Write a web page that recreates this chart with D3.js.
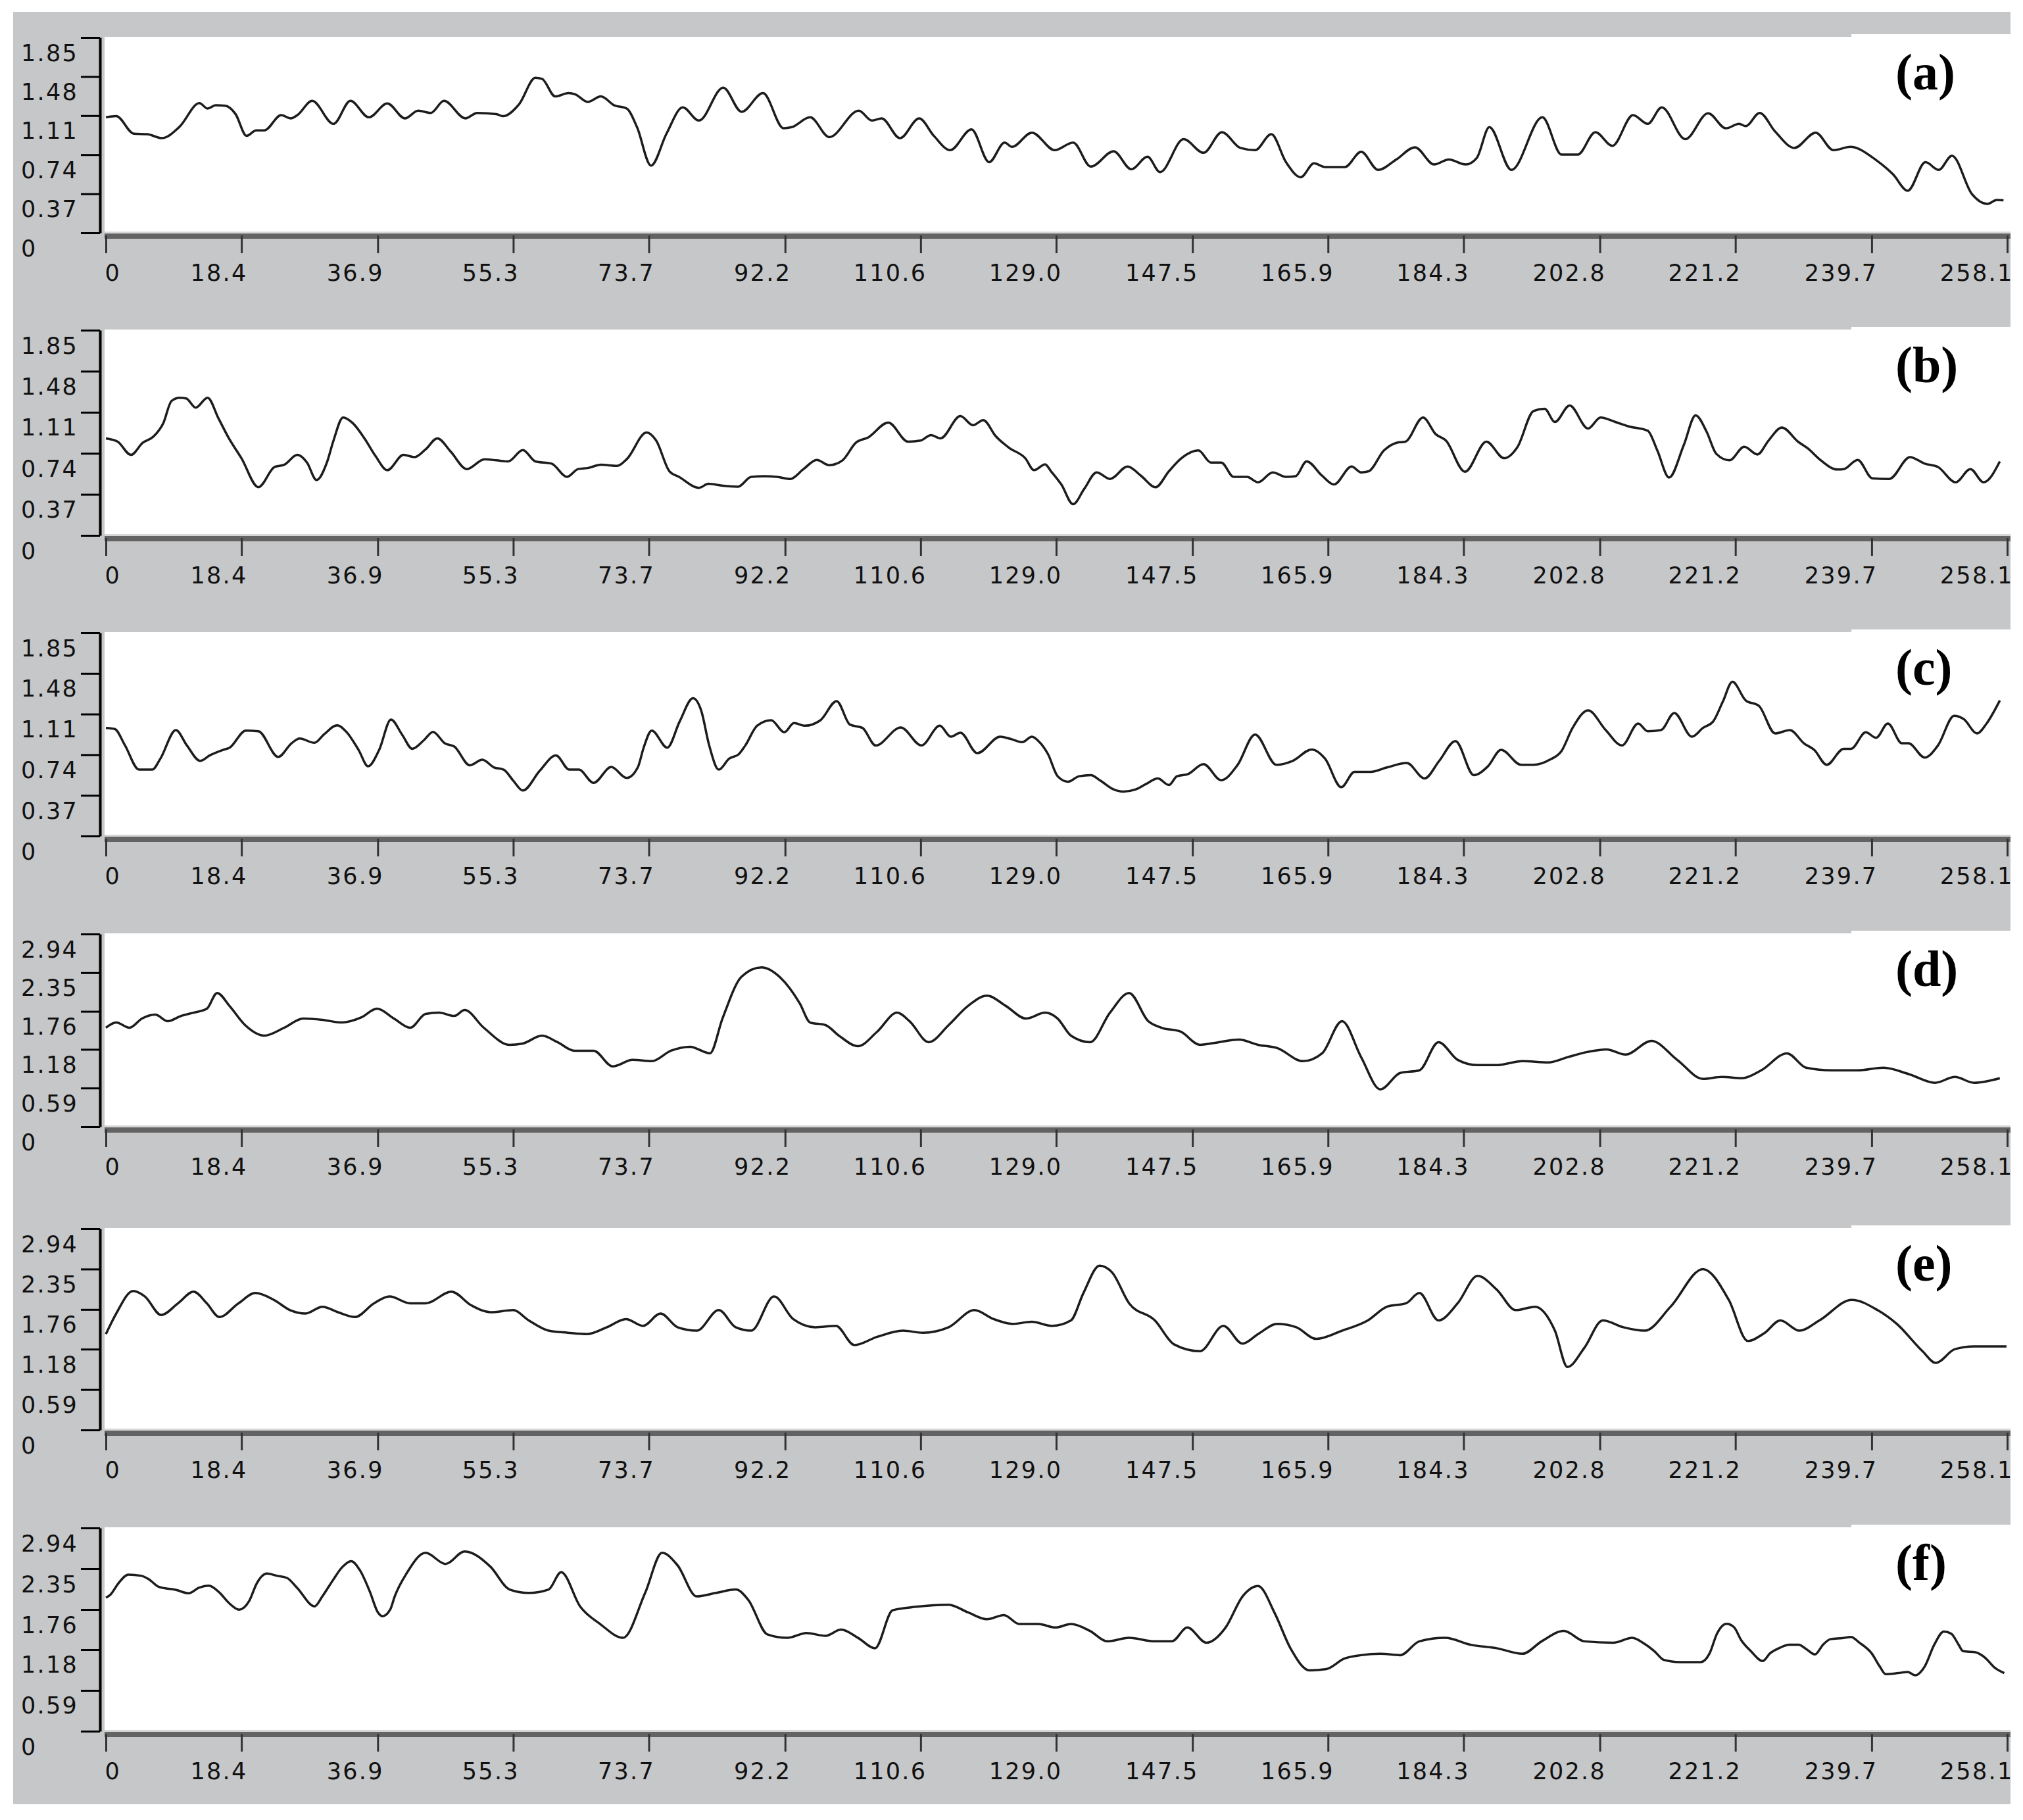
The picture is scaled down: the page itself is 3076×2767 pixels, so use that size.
<!DOCTYPE html>
<html><head><meta charset="utf-8">
<script src="https://cdn.jsdelivr.net/npm/d3@7"></script>
<style>html,body{margin:0;padding:0;background:#fff;} svg{display:block}</style>
</head><body><svg id="chart" width="3076" height="2767"></svg>
<script>
// ---------------- DATA ----------------
const xTickLabels = ["0","18.4","36.9","55.3","73.7","92.2","110.6","129.0","147.5","165.9","184.3","202.8","221.2","239.7","258.1"];
const xMax = 258.1;
const yTickLabelsLow  = ["0","0.37","0.74","1.11","1.48","1.85"];
const yTickLabelsHigh = ["0","0.59","1.18","1.76","2.35","2.94"];
const panelNames = ["(a)","(b)","(c)","(d)","(e)","(f)"];

const seriesA = [[0,1.094],[1.4,1.105],[3.8,0.939],[5.6,0.934],[7.6,0.897],[10.0,1.005],[12.7,1.229],[13.8,1.177],[14.9,1.208],[16.2,1.204],[17.6,1.125],[19.1,0.918],[20.4,0.970],[21.5,0.970],[23.8,1.115],[25.1,1.084],[26.0,1.115],[28.0,1.250],[30.9,1.032],[33.2,1.250],[35.7,1.094],[38.2,1.225],[40.6,1.084],[42.4,1.157],[44.1,1.136],[45.9,1.250],[48.8,1.084],[50.4,1.136],[53.0,1.125],[53.9,1.105],[56.1,1.219],[58.3,1.468],[59.2,1.458],[61.0,1.292],[62.8,1.323],[63.7,1.312],[65.4,1.240],[67.2,1.292],[69.0,1.208],[70.7,1.177],[72.1,1.001],[74.0,0.637],[76.1,0.939],[78.3,1.188],[80.5,1.063],[83.8,1.375],[86.3,1.146],[89.2,1.323],[92.0,0.990],[93.1,1.001],[95.6,1.094],[98.2,0.907],[102.2,1.157],[104.0,1.063],[105.3,1.084],[107.8,0.897],[110.4,1.084],[112.4,0.918],[114.6,0.783],[117.5,0.980],[119.9,0.669],[122.0,0.855],[123.0,0.814],[125.7,0.949],[128.8,0.783],[131.3,0.855],[133.7,0.627],[136.8,0.772],[139.2,0.602],[141.4,0.721],[143.1,0.575],[146.3,0.887],[149.0,0.758],[151.5,0.953],[154.0,0.804],[156.0,0.783],[158.2,0.934],[160.2,0.669],[162.2,0.527],[164.0,0.658],[165.5,0.623],[168.2,0.623],[170.4,0.768],[172.7,0.596],[175.2,0.696],[177.7,0.810],[180.3,0.648],[182.3,0.694],[184.6,0.648],[186.1,0.710],[187.8,1.001],[190.8,0.596],[195.0,1.094],[197.6,0.741],[199.8,0.741],[202.2,0.953],[204.5,0.824],[207.3,1.115],[209.3,1.032],[211.2,1.188],[214.4,0.887],[217.5,1.132],[219.9,0.990],[221.7,1.032],[222.6,1.011],[224.5,1.136],[226.6,0.959],[229.2,0.804],[232.1,0.949],[234.5,0.783],[236.8,0.814],[240.3,0.689],[242.6,0.554],[244.6,0.399],[247.0,0.669],[248.8,0.596],[250.6,0.731],[253.3,0.368],[255.4,0.274],[256.7,0.311],[257.6,0.309]];

const seriesB = [[0,0.875],[1.6,0.845],[3.4,0.726],[5.0,0.835],[6.5,0.894],[7.8,1.013],[8.9,1.211],[10.0,1.241],[10.9,1.235],[12.2,1.152],[13.8,1.241],[15.3,1.053],[16.7,0.875],[18.4,0.696],[20.7,0.435],[22.9,0.617],[24.2,0.637],[26.0,0.726],[27.3,0.657],[28.6,0.499],[30.0,0.657],[30.9,0.855],[32.2,1.063],[33.5,1.013],[35.1,0.875],[36.6,0.716],[38.2,0.588],[40.4,0.726],[41.9,0.706],[43.4,0.776],[45.0,0.875],[46.8,0.756],[49.0,0.598],[51.4,0.687],[53.0,0.677],[54.6,0.667],[56.6,0.770],[58.3,0.667],[60.5,0.647],[62.6,0.528],[64.1,0.598],[65.4,0.607],[67.2,0.637],[69.4,0.627],[70.7,0.687],[73.4,0.928],[74.7,0.855],[76.5,0.578],[77.8,0.528],[80.5,0.429],[81.8,0.465],[83.6,0.449],[85.8,0.439],[87.6,0.528],[89.4,0.534],[91.1,0.528],[92.9,0.509],[94.7,0.598],[96.5,0.681],[98.2,0.633],[100.0,0.677],[101.8,0.835],[103.5,0.884],[106.2,1.017],[108.9,0.845],[110.6,0.855],[112.0,0.904],[113.3,0.875],[116.0,1.076],[117.7,0.993],[119.1,1.039],[120.8,0.894],[122.6,0.790],[124.8,0.696],[126.0,0.588],[127.5,0.641],[128.3,0.578],[129.7,0.459],[131.3,0.281],[132.8,0.419],[134.5,0.568],[136.3,0.509],[138.7,0.621],[140.5,0.538],[142.5,0.435],[144.3,0.578],[146.0,0.696],[148.3,0.766],[150.0,0.657],[151.4,0.657],[153.1,0.528],[154.9,0.528],[156.4,0.479],[158.4,0.568],[160.2,0.528],[161.5,0.534],[163.0,0.667],[165.1,0.538],[166.7,0.459],[169.1,0.621],[170.4,0.568],[171.4,0.578],[173.5,0.766],[175.2,0.835],[176.4,0.845],[178.8,1.063],[180.5,0.914],[181.9,0.855],[184.5,0.574],[187.4,0.845],[189.8,0.696],[191.6,0.795],[193.8,1.122],[195.3,1.142],[196.7,1.023],[198.7,1.171],[201.2,0.964],[202.9,1.063],[204.9,1.023],[206.7,0.983],[209.3,0.944],[210.6,0.766],[212.2,0.522],[214.2,0.815],[215.8,1.082],[217.3,0.934],[218.6,0.736],[220.4,0.677],[222.4,0.799],[224.2,0.730],[225.7,0.855],[227.5,0.973],[229.7,0.845],[231.0,0.786],[232.8,0.677],[235.0,0.594],[235.9,0.598],[237.8,0.681],[239.8,0.514],[242.1,0.509],[244.9,0.706],[246.9,0.647],[248.7,0.617],[251.1,0.479],[253.1,0.598],[254.9,0.479],[257.1,0.667]];

const seriesC = [[0,0.984],[1.2,0.974],[2.6,0.824],[4.5,0.604],[6.3,0.604],[7.4,0.704],[9.5,0.964],[11.0,0.824],[12.8,0.684],[14.1,0.734],[15.9,0.784],[16.8,0.804],[19.0,0.960],[20.7,0.954],[23.4,0.720],[25.2,0.844],[26.3,0.888],[28.3,0.848],[29.6,0.924],[31.4,1.008],[32.7,0.944],[34.3,0.784],[35.6,0.634],[37.1,0.784],[38.7,1.060],[40.2,0.924],[41.6,0.794],[43.2,0.874],[44.4,0.948],[46.0,0.844],[47.3,0.814],[49.4,0.644],[51.1,0.694],[52.7,0.624],[54.0,0.604],[55.3,0.504],[56.6,0.414],[58.9,0.594],[61.1,0.734],[62.9,0.604],[64.2,0.604],[66.2,0.484],[68.6,0.628],[70.7,0.528],[72.2,0.624],[73.0,0.804],[74.1,0.960],[76.2,0.804],[77.9,1.044],[79.7,1.254],[80.8,1.144],[81.9,0.824],[83.2,0.604],[84.6,0.704],[85.9,0.744],[86.8,0.824],[88.4,1.004],[90.3,1.054],[92.1,0.944],[93.4,1.028],[94.9,1.004],[97.0,1.054],[99.2,1.228],[101.0,1.014],[102.7,0.984],[104.5,0.824],[107.9,0.988],[110.7,0.824],[113.2,1.004],[114.7,0.904],[116.0,0.940],[118.3,0.754],[121.4,0.904],[122.7,0.886],[124.4,0.854],[125.7,0.904],[126.6,0.864],[127.9,0.744],[129.2,0.544],[130.6,0.494],[132.1,0.544],[133.7,0.554],[135.0,0.504],[136.8,0.424],[138.1,0.404],[139.8,0.424],[141.2,0.474],[142.8,0.524],[144.3,0.464],[145.4,0.544],[146.9,0.564],[149.0,0.654],[151.4,0.508],[153.6,0.644],[156.0,0.924],[158.9,0.648],[161.1,0.684],[163.7,0.788],[165.5,0.704],[167.7,0.444],[169.5,0.584],[171.7,0.584],[173.9,0.624],[176.6,0.664],[179.0,0.524],[181.0,0.684],[183.2,0.864],[185.7,0.554],[187.6,0.634],[189.4,0.784],[192.1,0.648],[193.8,0.648],[196.0,0.694],[197.6,0.774],[199.1,0.984],[201.2,1.144],[203.6,0.964],[205.8,0.824],[208.0,1.024],[209.3,0.954],[211.1,0.964],[212.9,1.120],[215.3,0.904],[216.8,0.984],[218.2,1.044],[219.5,1.224],[220.8,1.404],[222.6,1.234],[224.4,1.184],[226.6,0.934],[228.6,0.964],[230.5,0.844],[231.9,0.784],[233.6,0.648],[235.9,0.794],[236.9,0.794],[238.9,0.944],[240.3,0.894],[241.9,1.024],[243.8,0.844],[244.7,0.844],[246.9,0.714],[248.7,0.824],[250.9,1.094],[252.2,1.064],[254.0,0.934],[255.3,1.024],[257.1,1.234]];

const seriesD = [[0,1.51],[1.4,1.59],[3.2,1.51],[4.9,1.65],[6.7,1.71],[8.4,1.61],[10.2,1.69],[11.9,1.74],[13.7,1.80],[15.1,2.04],[16.8,1.84],[18.9,1.55],[21.5,1.39],[24.2,1.51],[26.8,1.65],[29.4,1.63],[32.0,1.59],[34.7,1.67],[36.8,1.80],[39.1,1.65],[41.3,1.51],[43.4,1.72],[45.2,1.74],[47.3,1.69],[48.7,1.78],[51.3,1.51],[54.8,1.25],[56.6,1.27],[59.2,1.39],[61.3,1.29],[63.6,1.16],[66.2,1.16],[68.8,0.92],[71.5,1.02],[74.1,1.00],[76.7,1.16],[79.3,1.22],[82.0,1.12],[83.7,1.65],[86.3,2.29],[89.0,2.43],[91.6,2.27],[94.2,1.88],[95.6,1.59],[97.7,1.55],[99.5,1.39],[102.1,1.23],[104.7,1.45],[107.4,1.74],[109.1,1.61],[111.7,1.29],[114.4,1.55],[117.0,1.84],[119.6,2.00],[122.2,1.84],[124.9,1.65],[127.5,1.74],[129.2,1.65],[131.0,1.39],[133.6,1.29],[136.3,1.74],[138.9,2.04],[141.5,1.61],[143.3,1.51],[145.9,1.45],[148.5,1.25],[151.1,1.29],[153.8,1.33],[156.4,1.25],[159.0,1.20],[162.5,1.00],[165.1,1.12],[167.8,1.61],[170.4,1.06],[173.0,0.57],[175.7,0.82],[178.3,0.86],[180.9,1.29],[183.5,1.02],[186.2,0.94],[188.8,0.94],[192.3,1.00],[195.8,0.98],[198.4,1.06],[201.1,1.14],[203.7,1.18],[206.3,1.10],[209.8,1.31],[213.3,1.02],[216.8,0.73],[219.4,0.76],[222.1,0.74],[224.7,0.86],[228.2,1.12],[230.8,0.90],[234.3,0.86],[237.8,0.86],[241.3,0.90],[244.8,0.80],[248.3,0.67],[251.0,0.76],[253.6,0.67],[257.1,0.74]];

const seriesE = [[0,1.40],[1.4,1.70],[3.7,2.03],[5.3,1.95],[7.5,1.68],[9.8,1.85],[11.9,2.02],[13.7,1.85],[15.4,1.65],[18.0,1.85],[20.3,2.00],[22.8,1.90],[25.0,1.75],[27.1,1.70],[29.4,1.80],[31.5,1.72],[33.8,1.65],[36.4,1.85],[38.5,1.95],[41.3,1.85],[43.4,1.85],[46.9,2.02],[49.6,1.82],[52.2,1.72],[55.3,1.75],[57.4,1.60],[60.1,1.45],[62.7,1.42],[65.3,1.40],[68.0,1.50],[70.6,1.62],[72.9,1.52],[75.3,1.70],[77.6,1.50],[80.2,1.45],[83.2,1.75],[85.5,1.50],[87.6,1.45],[90.7,1.95],[93.3,1.62],[96.3,1.50],[99.1,1.52],[101.6,1.24],[104.7,1.36],[108.2,1.45],[110.9,1.42],[114.4,1.50],[117.9,1.75],[120.5,1.62],[123.1,1.55],[125.7,1.58],[128.4,1.52],[131.0,1.60],[132.7,2.00],[134.9,2.40],[136.6,2.30],[138.9,1.85],[142.4,1.60],[145.0,1.25],[148.5,1.15],[151.7,1.52],[154.3,1.26],[156.4,1.40],[159.0,1.55],[161.6,1.50],[164.3,1.33],[167.8,1.45],[171.3,1.60],[173.9,1.80],[176.5,1.85],[178.3,2.00],[180.9,1.60],[183.5,1.85],[186.2,2.25],[188.8,2.05],[191.4,1.75],[194.0,1.80],[196.7,1.45],[198.4,0.92],[200.7,1.20],[203.2,1.60],[206.0,1.50],[208.9,1.45],[212.4,1.80],[216.8,2.35],[220.3,1.90],[222.9,1.30],[225.2,1.42],[227.3,1.60],[229.9,1.45],[232.6,1.60],[237.0,1.90],[240.5,1.75],[243.1,1.55],[246.6,1.15],[248.4,0.98],[251.0,1.18],[253.6,1.22],[258.0,1.22]];

const seriesF = [[0,1.932],[0.66,1.980],[1.69,2.138],[3.05,2.265],[4.76,2.249],[5.79,2.201],[7.15,2.090],[9.54,2.043],[11.25,1.995],[12.62,2.075],[13.98,2.106],[15.36,2.011],[16.72,1.853],[18.09,1.758],[19.46,1.885],[20.48,2.138],[21.85,2.280],[23.21,2.249],[24.58,2.217],[25.95,2.075],[28.34,1.806],[29.37,1.948],[30.73,2.170],[32.1,2.375],[33.3,2.460],[34.49,2.327],[35.86,2.011],[36.88,1.727],[37.56,1.663],[38.59,1.758],[39.2,1.948],[40.8,2.28],[43.4,2.58],[46.1,2.42],[48.7,2.60],[52.2,2.38],[54.8,2.05],[57.4,2.00],[60.1,2.05],[61.8,2.30],[64.4,1.80],[67.1,1.55],[70.2,1.35],[73.2,2.00],[75.5,2.58],[77.6,2.40],[80.2,1.95],[82.8,2.00],[85.5,2.05],[87.2,1.90],[89.8,1.40],[92.5,1.35],[95.1,1.42],[97.7,1.38],[99.8,1.47],[102.1,1.35],[104.4,1.20],[106.8,1.75],[110.0,1.80],[114.4,1.83],[117.0,1.72],[119.6,1.62],[121.9,1.68],[124.0,1.55],[126.6,1.55],[128.9,1.50],[131.0,1.55],[133.6,1.45],[135.9,1.30],[138.9,1.35],[142.4,1.30],[144.7,1.30],[146.8,1.50],[149.4,1.28],[152.0,1.50],[154.3,1.95],[156.4,2.10],[158.7,1.70],[160.8,1.20],[163.4,0.88],[165.7,0.90],[168.1,1.05],[170.4,1.10],[173.0,1.12],[175.7,1.10],[178.3,1.30],[181.8,1.35],[185.3,1.25],[188.8,1.20],[192.3,1.12],[194.9,1.30],[197.9,1.45],[200.7,1.30],[204.6,1.28],[207.2,1.35],[208.8,1.268],[210.2,1.158],[211.5,1.031],[213.8,0.999],[216.5,0.999],[217.7,1.126],[218.7,1.411],[220.0,1.553],[221.0,1.506],[222.0,1.316],[223.3,1.158],[224.9,1.015],[225.9,1.126],[227.2,1.205],[228.5,1.252],[229.8,1.252],[230.8,1.189],[232.0,1.110],[233.1,1.252],[234.1,1.331],[235.7,1.347],[236.9,1.363],[238.0,1.284],[239.7,1.126],[240.8,0.936],[241.6,0.825],[243.3,0.841],[244.6,0.857],[245.6,0.809],[246.9,0.936],[248.2,1.252],[249.5,1.442],[250.5,1.411],[251.5,1.252],[252.1,1.158],[253.8,1.142],[255.1,1.063],[256.4,0.920],[257.7,0.841]];

const allSeries = [seriesA, seriesB, seriesC, seriesD, seriesE, seriesF];
const yLabelSets = [yTickLabelsLow, yTickLabelsLow, yTickLabelsLow, yTickLabelsHigh, yTickLabelsHigh, yTickLabelsHigh];

// ---------------- LAYOUT ----------------
const layout = [
  {top:56,   zero:354},
  {top:501,  zero:814},
  {top:961,  zero:1271},
  {top:1419, zero:1713},
  {top:1867, zero:2174},
  {top:2322, zero:2632}
];
const greyTop = 18, greyBottom = 2743, greyLeft = 20, rightEdge = 3057;
const plotLeft = 159, axisX = 152;
const GREY = "#c6c7c9";

const svg = d3.select("#chart");
svg.append("rect").attr("x",greyLeft).attr("y",greyTop).attr("width",rightEdge-greyLeft).attr("height",greyBottom-greyTop).attr("fill",GREY);

const defs = svg.append("defs");
const x = d3.scaleLinear().domain([0,xMax]).range([161,3052]);
const xTickVals = xTickLabels.map(Number);

defs.append("clipPath").attr("id","clipR").append("rect")
  .attr("x",0).attr("y",0).attr("width",rightEdge).attr("height",2767);

layout.forEach((L,i)=>{
  const labels = yLabelSets[i];
  const yVals = labels.map(Number);
  const yMax = yVals[yVals.length-1];
  const y = d3.scaleLinear().domain([0,yMax]).range([L.zero, L.top+1]);
  const g = svg.append("g");

  g.append("rect").attr("x",plotLeft).attr("y",L.top).attr("width",rightEdge-plotLeft).attr("height",L.zero-2-L.top).attr("fill","#fff");
  g.append("rect").attr("x",2815).attr("y",L.top-4).attr("width",rightEdge-2815).attr("height",4).attr("fill","#fff");
  g.append("rect").attr("x",plotLeft).attr("y",L.zero-2).attr("width",rightEdge-plotLeft).attr("height",3).attr("fill","#d6d6d6");
  g.append("rect").attr("x",plotLeft).attr("y",L.zero+1).attr("width",rightEdge-plotLeft).attr("height",8).attr("fill","#636363");

  const xa = g.append("g").attr("transform",`translate(0,${L.zero+4})`).attr("clip-path","url(#clipR)")
    .call(d3.axisBottom(x).tickValues(xTickVals).tickFormat((d,k)=>xTickLabels[k]).tickSize(27).tickSizeOuter(0));
  xa.select(".domain").remove();
  xa.selectAll(".tick line").attr("stroke","#333").attr("stroke-width",3);
  xa.selectAll(".tick text")
    .attr("font-family","'DejaVu Sans', Verdana, sans-serif").attr("font-size",35).attr("letter-spacing","2.3px")
    .attr("fill","#111").attr("dy",0).attr("y",69)
    .attr("text-anchor",(d,k)=>k===0?"start":"end")
    .attr("x",(d,k)=>k===0?-2:9);

  const ya = g.append("g").attr("transform",`translate(${axisX},0)`)
    .call(d3.axisLeft(y).tickValues(yVals).tickFormat((d,k)=>labels[k]).tickSize(29).tickSizeOuter(0));
  ya.select(".domain").attr("stroke","#000").attr("stroke-width",4);
  ya.selectAll(".tick line").attr("stroke","#000").attr("stroke-width",3);
  ya.selectAll(".tick text")
    .attr("font-family","'DejaVu Sans', Verdana, sans-serif").attr("font-size",35).attr("letter-spacing","2.3px")
    .attr("fill","#111").attr("text-anchor","start").attr("x",32-axisX).attr("dy",35);

  const pid = "pclip"+i;
  defs.append("clipPath").attr("id",pid).append("rect")
    .attr("x",plotLeft).attr("y",L.top).attr("width",rightEdge-plotLeft).attr("height",L.zero-L.top);
  const data = allSeries[i];
  const line = d3.line().x(d=>x(d[0])).y(d=>y(d[1])).curve(d3.curveMonotoneX);
  g.append("path").datum(data).attr("d",line).attr("fill","none")
    .attr("stroke","#1c1c1c").attr("stroke-width",3.5).attr("stroke-linejoin","round")
    .attr("clip-path",`url(#${pid})`);

  g.append("text").attr("x",2882).attr("y",L.top+80).text(panelNames[i])
    .attr("font-family","'Liberation Serif','Times New Roman',serif").attr("font-weight","bold")
    .attr("font-size",78).attr("fill","#000");
});
</script></body></html>
